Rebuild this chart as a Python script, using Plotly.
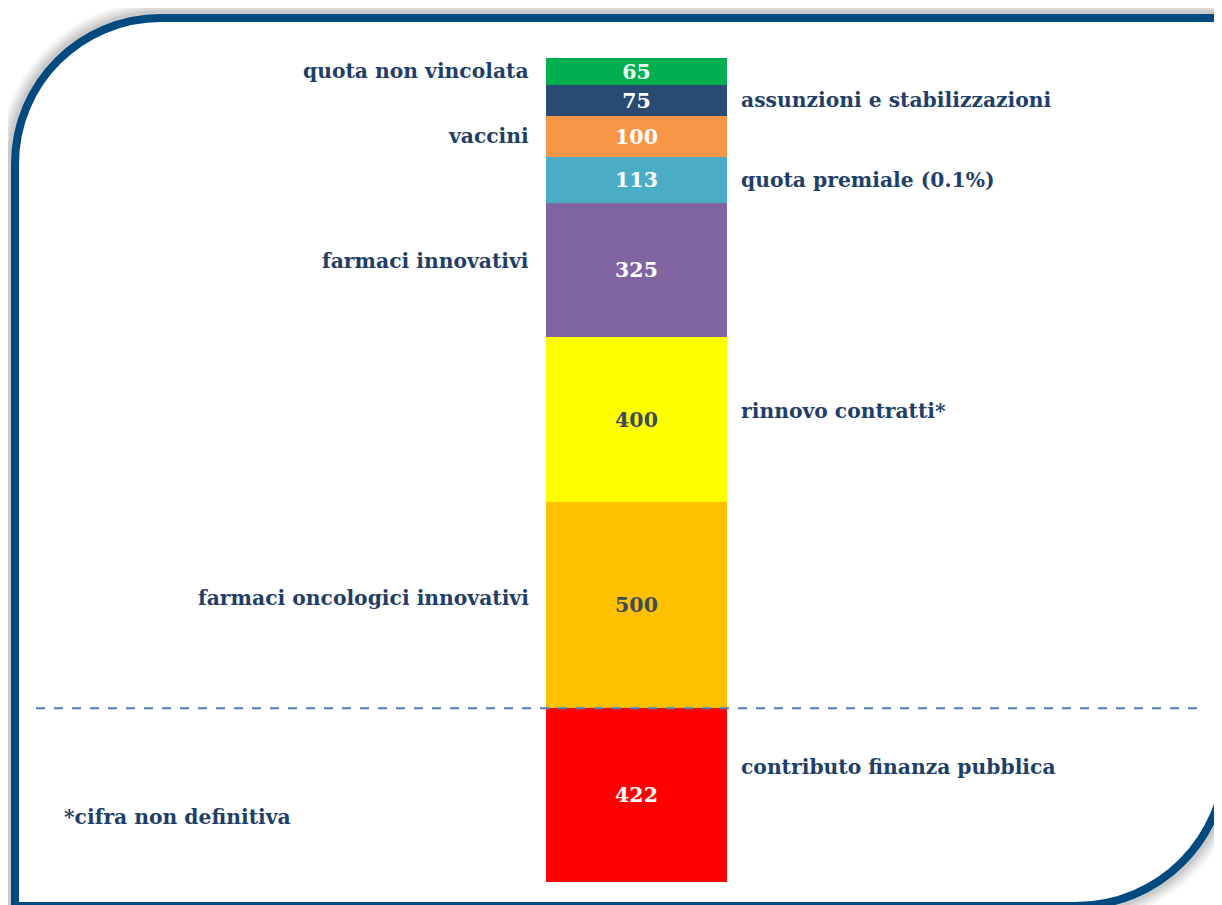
import plotly.graph_objects as go

# ---- data (bottom to top of the stack) ----
categories = ["contributo finanza pubblica", "farmaci oncologici innovativi",
              "rinnovo contratti*", "farmaci innovativi", "quota premiale (0.1%)",
              "vaccini", "assunzioni e stabilizzazioni", "quota non vincolata"]
values = [422, 500, 400, 325, 113, 100, 75, 65]
label_side = ["right", "left", "right", "left", "right", "left", "right", "left"]
note_text = "*cifra non definitiva"

# ---- styles ----
bar_colors = ["#FF0000", "#FFC000", "#FFFF00", "#8064A2", "#4BACC6",
              "#F79646", "#294B72", "#00B050"]
value_colors = ["#FFFFFF", "#3D4A5C", "#3D4A5C", "#FFFFFF", "#FFFFFF",
                "#FFFFFF", "#FFFFFF", "#F2FFF5"]
label_yshift = [28, 7, 9, 9, 0, 0, 0, 0]
TXT = "#1F3F68"
FONT = "DejaVu Serif"
LABEL_SIZE = 20.3
VALUE_SIZE = 20.5

# the page body adds an 8px margin; work in screen pixels and shift
OFF = 8
SW, SH = 1222, 905
W, H = SW - OFF, SH - OFF


def fx(sx):
    return (sx - OFF) / W


def fy(sy):
    return 1 - (sy - OFF) / H


bar_left, bar_right = 546, 727
bar_bottom_px, bar_top_px = 882, 58

total = sum(values)
ppu = (bar_bottom_px - bar_top_px) / total
bottom_f = bar_bottom_px - OFF
y_range = [-(H - bottom_f) / ppu, bottom_f / ppu]
bw = bar_right - bar_left
cx = (bar_left + bar_right) / 2 - OFF
x_range = [-cx / bw, (W - cx) / bw]

fig = go.Figure()
for cat, v, c, tc in zip(categories, values, bar_colors, value_colors):
    fig.add_trace(go.Bar(
        x=[0], y=[v], name=cat, width=1, marker=dict(color=c, line=dict(width=0)),
        text=[f"<b>{v}</b>"], textposition="inside", insidetextanchor="middle",
        constraintext="none", cliponaxis=False,
        textangle=0, textfont=dict(family=FONT, size=VALUE_SIZE, color=tc),
        hoverinfo="skip"))

# labels
annotations = []
cum = 0
for cat, v, side, ys in zip(categories, values, label_side, label_yshift):
    mid = cum + v / 2
    cum += v
    if side == "left":
        annotations.append(dict(x=fx(531), xref="paper", y=mid, yref="y",
                                text=f"<b>{cat}</b>", showarrow=False,
                                xanchor="right", yanchor="middle", yshift=ys,
                                font=dict(family=FONT, size=LABEL_SIZE, color=TXT)))
    else:
        annotations.append(dict(x=fx(739), xref="paper", y=mid, yref="y",
                                text=f"<b>{cat}</b>", showarrow=False,
                                xanchor="left", yanchor="middle", yshift=ys,
                                font=dict(family=FONT, size=LABEL_SIZE, color=TXT)))
annotations.append(dict(x=fx(62), xref="paper", y=fy(817), yref="paper",
                        text=f"<b>{note_text}</b>", showarrow=False,
                        xanchor="left", yanchor="middle",
                        font=dict(family=FONT, size=LABEL_SIZE, color=TXT)))


def P(sx, sy):
    return f"{fx(sx):.5f},{fy(sy):.5f}"


L, T, R, B = 15, 18, 1226, 906
r1, r2 = 146, 150
k = 0.5523
frame = (f"M {P(L, T + r1)} C {P(L, T + r1 * (1 - k))} {P(L + r1 * (1 - k), T)} {P(L + r1, T)} "
         f"L {P(R, T)} L {P(R, B - r2)} "
         f"C {P(R, B - r2 * (1 - k))} {P(R - r2 * (1 - k), B)} {P(R - r2, B)} "
         f"L {P(L, B)} Z")

shapes = []
for lw, op in [(34, 0.04), (28, 0.05), (22, 0.06), (16, 0.07)]:
    shapes.append(dict(type="path", path=frame, xref="paper", yref="paper",
                       line=dict(color=f"rgba(0,0,0,{op})", width=lw),
                       fillcolor="rgba(0,0,0,0)", layer="below"))
shapes.append(dict(type="path", path=frame, xref="paper", yref="paper",
                   line=dict(color="#004A80", width=8),
                   fillcolor="#FFFFFF", layer="below"))
# dashed separator at the top of the first segment
shapes.append(dict(type="line", xref="paper", yref="y", x0=fx(36), x1=fx(1205),
                   y0=values[0], y1=values[0],
                   line=dict(color="#4F7CB8", width=2, dash="dash"), layer="above"))

fig.update_layout(
    width=W, height=H, margin=dict(l=0, r=0, t=0, b=0),
    barmode="stack", showlegend=False, bargap=0,
    paper_bgcolor="#FFFFFF", plot_bgcolor="rgba(0,0,0,0)",
    xaxis=dict(range=x_range, visible=False, fixedrange=True),
    yaxis=dict(range=y_range, visible=False, fixedrange=True),
    shapes=shapes, annotations=annotations,
    uniformtext=dict(mode=False),
)
fig.write_html("out.html")
